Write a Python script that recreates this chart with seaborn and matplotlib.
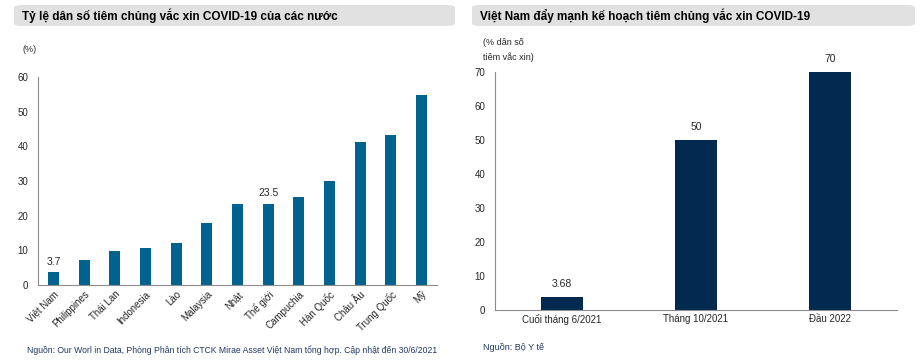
import matplotlib
matplotlib.use("Agg")
import matplotlib.pyplot as plt
from matplotlib.patches import FancyBboxPatch
from matplotlib.ticker import FixedLocator
import numpy as np
import pandas as pd
import seaborn as sns

# Left chart: share of population vaccinated (%)
countries = ["Việt Nam", "Philippines", "Thái Lan", "Indonesia", "Lào", "Malaysia",
             "Nhật", "Thế giới", "Campuchia", "Hàn Quốc", "Châu Âu", "Trung Quốc", "Mỹ"]
vacc_rate = [3.7, 7.1, 9.9, 10.7, 12.2, 17.9, 23.5, 23.5, 25.3, 30.0, 41.2, 43.3, 54.7]
left_labels = {0: "3.7", 7: "23.5"}

# Right chart: Vietnam vaccination plan
periods = ["Cuối tháng 6/2021", "Tháng 10/2021", "Đầu 2022"]
plan_rate = [3.68, 50, 70]
plan_labels = ["3.68", "50", "70"]

sns.set_theme(style="white")
plt.rcParams["font.family"] = ["Liberation Sans", "DejaVu Sans"]

W, H = 922, 360
fig = plt.figure(figsize=(W / 100, H / 100), dpi=100)

def px_axes(x0, y_top, x1, y_bot):
    return fig.add_axes([x0 / W, 1 - y_bot / H, (x1 - x0) / W, (y_bot - y_top) / H])

def title_box(x0, x1, text):
    box = FancyBboxPatch((x0 / W, 1 - 26 / H), (x1 - x0) / W, 21 / H,
                         boxstyle="round,pad=0,rounding_size=0.008",
                         transform=fig.transFigure, facecolor="#e1e1e1",
                         edgecolor="none", zorder=0)
    fig.patches.append(box)
    fig.text((x0 + 8) / W, 1 - 15.5 / H, text, fontsize=8.5, fontweight="bold",
             va="center", ha="left", color="black")

def style_axes(ax, n):
    for s in ["top", "right"]:
        ax.spines[s].set_visible(False)
    for s in ["left", "bottom"]:
        ax.spines[s].set_color("#8c8c8c")
        ax.spines[s].set_linewidth(0.8)
    ax.set_xlim(-0.5, n - 0.5)
    ax.xaxis.set_minor_locator(FixedLocator(np.arange(-0.5, n, 1.0)))
    ax.tick_params(axis="x", which="major", length=0, pad=3)
    ax.tick_params(axis="x", which="minor", length=3, color="#8c8c8c", direction="out", width=0.8)
    ax.tick_params(axis="y", length=3, color="#8c8c8c", direction="out", width=0.8,
                   labelsize=7, pad=4)
    ax.set_xlabel("")
    ax.set_ylabel("")

# ---- left panel
title_box(14, 455, "Tỷ lệ dân số tiêm chủng vắc xin COVID-19 của các nước")
ax1 = px_axes(38, 77, 437, 285)
df1 = pd.DataFrame({"country": countries, "rate": vacc_rate})
sns.barplot(data=df1, x="country", y="rate", color="#00628f", width=0.36,
            saturation=1, linewidth=0, ax=ax1)
ax1.set_ylim(0, 60)
ax1.set_yticks(range(0, 61, 10))
style_axes(ax1, len(countries))
ax1.set_xticks(range(len(countries)))
ax1.set_xticklabels(countries, rotation=45, ha="right", rotation_mode="anchor", fontsize=7)
for i, t in left_labels.items():
    ax1.text(i, vacc_rate[i] + 1.5, t, ha="center", va="bottom", fontsize=7.5)
fig.text(22 / W, 1 - 50 / H, "(%)", fontsize=6.5, va="center", ha="left")
fig.text(27 / W, 1 - 350 / H, "Nguồn: Our Worl in Data, Phòng Phân tích CTCK Mirae Asset Việt Nam tổng hợp. Cập nhật đến 30/6/2021",
         fontsize=6.2, va="center", ha="left", color="#1f3864")

# ---- right panel
title_box(472, 915, "Việt Nam đẩy mạnh kế hoạch tiêm chủng vắc xin COVID-19")
ax2 = px_axes(495, 72, 897, 310)
df2 = pd.DataFrame({"period": periods, "rate": plan_rate})
sns.barplot(data=df2, x="period", y="rate", color="#022a50", width=0.31,
            saturation=1, linewidth=0, ax=ax2)
ax2.set_ylim(0, 70)
ax2.set_yticks(range(0, 71, 10))
style_axes(ax2, len(periods))
ax2.set_xticks(range(len(periods)))
ax2.set_xticklabels(periods, fontsize=7)
for i, t in enumerate(plan_labels):
    ax2.text(i, plan_rate[i] + 2.5, t, ha="center", va="bottom", fontsize=7.5)
fig.text(483 / W, 1 - 50 / H, "(% dân số\ntiêm vắc xin)", fontsize=6.5, va="center",
         ha="left", linespacing=1.6)
fig.text(483 / W, 1 - 348 / H, "Nguồn: Bộ Y tế", fontsize=6.5, va="center", ha="left",
         color="#1f3864")

fig.savefig("out.png", dpi=100)
